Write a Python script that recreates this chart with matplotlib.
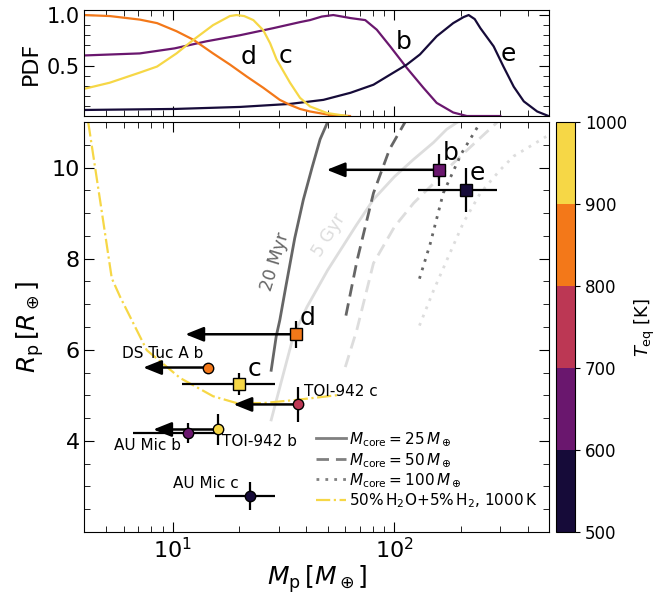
import numpy as np
import matplotlib.pyplot as plt
from matplotlib.colors import ListedColormap, BoundaryNorm
from matplotlib.cm import ScalarMappable
from matplotlib.lines import Line2D
from matplotlib.ticker import MultipleLocator, NullFormatter, FixedLocator

# --- V1298 Tau planets (squares) ---
planet = ['b', 'c', 'd', 'e']
planet_mass = [159, 19.9, 36.0, 211]
planet_mass_lo = [0, 8.9, 0, 83]
planet_mass_hi = [0, 9.0, 0, 79]
planet_mass_lim = [49.5, None, 11.4, None]   # end of the upper-limit arrow
planet_rad = [9.95, 5.25, 6.34, 9.51]
planet_rad_err = [0.35, 0.24, 0.30, 0.49]
planet_teq = [677, 968, 845, 568]

# --- other young planets (circles) ---
other = ['DS Tuc A b', 'TOI-942 b', 'TOI-942 c', 'AU Mic b', 'AU Mic c']
other_mass = [14.4, 16.0, 36.9, 11.7, 22.2]
other_mass_err = [0, 0, 0, 5.1, 6.7]
other_mass_lim = [7.36, 8.17, 18.8, None, None]
other_rad = [5.61, 4.25, 4.80, 4.18, 2.79]
other_rad_err = [0.11, 0.34, 0.375, 0.22, 0.30]
other_teq = [850, 920, 750, 625, 540]

# --- mass PDFs (top panel) ---
pdf_mass_c = [4.0, 5.2, 7.1, 8.5, 10.4, 12.4, 15.2, 18.1, 19.4, 21.0, 23.1, 25.6, 27.5, 29.4, 33.8, 37.5, 41.6, 49.6, 61]
pdf_c = [0.27, 0.33, 0.43, 0.49, 0.62, 0.755, 0.90, 0.99, 1.0, 0.99, 0.95, 0.85, 0.72, 0.56, 0.33, 0.18, 0.095, 0.03, 0.0]
pdf_mass_d = [4.0, 5.2, 7.1, 8.5, 10.4, 12.4, 15.2, 18.1, 21.6, 25.6, 30.4, 33.8, 37.5, 41.6, 51.3, 63]
pdf_d = [1.0, 0.99, 0.955, 0.92, 0.84, 0.755, 0.62, 0.51, 0.39, 0.28, 0.16, 0.11, 0.07, 0.045, 0.01, 0.0]
pdf_mass_b = [4.0, 7.1, 10.2, 14.2, 20.1, 28.4, 37.5, 41.6, 47, 53.0, 58, 63.3, 73.8, 83.2, 95.6, 113.8, 135, 155, 184, 212, 300]
pdf_b = [0.60, 0.62, 0.67, 0.74, 0.80, 0.87, 0.93, 0.95, 0.985, 1.0, 0.985, 0.97, 0.95, 0.855, 0.69, 0.475, 0.28, 0.13, 0.035, 0.0, 0.0]
pdf_mass_e = [4.0, 10.2, 20.1, 33.8, 47.8, 63.3, 80.4, 95.6, 113.8, 130.3, 155, 184, 205, 216, 230, 244, 280, 310, 345, 383, 440, 495]
pdf_e = [0.06, 0.07, 0.09, 0.12, 0.16, 0.23, 0.31, 0.41, 0.51, 0.61, 0.79, 0.92, 0.98, 1.0, 0.96, 0.87, 0.69, 0.49, 0.29, 0.145, 0.045, 0.0]
pdf_label_pos = {'d': (21.9, 0.58), 'c': (32.4, 0.59), 'b': (109.5, 0.735), 'e': (326, 0.61)}

# --- evolution models ---
m25_20myr_m = [27.8, 29.3, 30.4, 32.4, 35.5, 38.8, 42.5, 46.2, 51]
m25_20myr_r = [5.55, 6.3, 6.65, 7.4, 8.45, 9.29, 10.0, 10.62, 11.1]
m25_5gyr_m = [27.8, 30, 35, 40.3, 50, 67.6, 80.4, 100, 122, 150, 172, 200]
m25_5gyr_r = [4.46, 5.07, 6.3, 6.94, 7.75, 8.75, 9.3, 9.8, 10.18, 10.55, 10.84, 11.05]
m50_20myr_m = [60.4, 67.8, 80.4, 95, 111.7]
m50_20myr_r = [6.75, 7.96, 9.44, 10.4, 11.0]
m50_5gyr_m = [60, 67.6, 80.4, 100, 122, 150, 172, 220, 290]
m50_5gyr_r = [5.62, 6.43, 7.9, 8.7, 9.22, 9.65, 9.96, 10.45, 10.99]
m100_20myr_m = [129.6, 145, 166, 200, 243.8]
m100_20myr_r = [7.56, 8.33, 9.44, 10.3, 10.99]
m100_5gyr_m = [129.6, 150, 172, 205, 244, 300, 345, 420, 487]
m100_5gyr_r = [6.53, 7.3, 7.96, 8.8, 9.44, 9.95, 10.25, 10.5, 10.69]
water_m = [4.16, 4.70, 5.31, 5.78, 7.64, 10.8, 15.2, 19.4, 25.6, 36.2, 56.8]
water_r = [10.99, 9.29, 7.57, 7.17, 5.99, 5.38, 4.98, 4.83, 4.83, 4.90, 5.01]

teq_bounds = [500, 600, 700, 800, 900, 1000]

inferno = plt.get_cmap('inferno')
cmap = ListedColormap([inferno(f) for f in [0.1, 0.3, 0.5, 0.7, 0.9]])
norm = BoundaryNorm(teq_bounds, cmap.N)

dark = '#666666'
light = '#dddddd'

fig = plt.figure(figsize=(6.71, 5.95), dpi=100)
ax_top = fig.add_axes([0.1259, 0.8050, 0.6930, 0.1782])
ax = fig.add_axes([0.1259, 0.1059, 0.6930, 0.6891], sharex=ax_top)
cax = fig.add_axes([0.8279, 0.1059, 0.0291, 0.6891])

# top panel
pdfs = {'c': (pdf_mass_c, pdf_c), 'd': (pdf_mass_d, pdf_d),
        'b': (pdf_mass_b, pdf_b), 'e': (pdf_mass_e, pdf_e)}
for name in ['b', 'e', 'd', 'c']:
    m, p = pdfs[name]
    col = cmap(norm(planet_teq[planet.index(name)]))
    ax_top.plot(m, p, color=col, lw=1.6)
    ax_top.text(*pdf_label_pos[name], name, fontsize=18, ha='center', va='center')
ax_top.set_xscale('log')
ax_top.set_xlim(4, 500)
ax_top.set_ylim(0, 1.05)
ax_top.yaxis.set_major_locator(FixedLocator([0.5, 1.0]))
ax_top.yaxis.set_minor_locator(MultipleLocator(0.1))
ax_top.set_ylabel('PDF', fontsize=16)
ax_top.tick_params(labelbottom=False)
ax_top.tick_params(axis='y', labelsize=15)

# models
ax.plot(m25_20myr_m, m25_20myr_r, color=dark, lw=2, ls='-')
ax.plot(m25_5gyr_m, m25_5gyr_r, color=light, lw=2, ls='-')
ax.plot(m50_20myr_m, m50_20myr_r, color=dark, lw=2, ls=(0, (4.5, 2.5)))
ax.plot(m50_5gyr_m, m50_5gyr_r, color=light, lw=2, ls=(0, (4.5, 2.5)))
ax.plot(m100_20myr_m, m100_20myr_r, color=dark, lw=2, ls=(0, (1, 2.2)))
ax.plot(m100_5gyr_m, m100_5gyr_r, color=light, lw=2, ls=(0, (1, 2.2)))
ax.plot(water_m, water_r, color=cmap(norm(1000)), lw=1.6, ls='-.')
ax.text(28.9, 7.93, '20 Myr', color=dark, rotation=73, fontsize=12.5, ha='center', va='center')
ax.text(50.4, 8.52, '5 Gyr', color=light, rotation=58, fontsize=12.5, ha='center', va='center')

arrow = dict(arrowstyle='-|>,head_length=0.55,head_width=0.22', color='k', lw=1.8,
             shrinkA=0, shrinkB=0, mutation_scale=20)

# V1298 Tau planets
for i, name in enumerate(planet):
    col = cmap(norm(planet_teq[i]))
    if planet_mass_lim[i] is not None:
        ax.annotate('', xy=(planet_mass_lim[i], planet_rad[i]),
                    xytext=(planet_mass[i], planet_rad[i]), arrowprops=arrow, zorder=4)
    xerr = [[planet_mass_lo[i]], [planet_mass_hi[i]]] if planet_mass_lo[i] else None
    ax.errorbar(planet_mass[i], planet_rad[i], xerr=xerr, yerr=planet_rad_err[i],
                fmt='s', ms=9, mfc=col, mec='k', mew=1, ecolor='k', elinewidth=1.6,
                capsize=0, zorder=5)
    off = (11.5, 11) if name == 'c' else (8, 12)
    ax.annotate(name, (planet_mass[i], planet_rad[i]), xytext=off, textcoords='offset points',
                fontsize=18, ha='center', va='center', zorder=6)

# other planets
label_off = [(-3.5, 10, 'right'), (3, -9, 'left'), (4, 9.5, 'left'),
             (-5, -9.5, 'right'), (-7.5, 9, 'right')]
for i, name in enumerate(other):
    col = cmap(norm(other_teq[i]))
    if other_mass_lim[i] is not None:
        ax.annotate('', xy=(other_mass_lim[i], other_rad[i]),
                    xytext=(other_mass[i], other_rad[i]), arrowprops=arrow, zorder=4)
    ax.errorbar(other_mass[i], other_rad[i], xerr=other_mass_err[i] or None,
                yerr=other_rad_err[i], fmt='o', ms=7.5, mfc=col, mec='k', mew=1,
                ecolor='k', elinewidth=1.6, capsize=0, zorder=5)
    dx, dy, ha = label_off[i]
    ax.annotate(name, (other_mass[i], other_rad[i]), xytext=(dx, dy), textcoords='offset points',
                fontsize=11, ha=ha, va='center', zorder=6)

ax.set_xscale('log')
ax.set_xlim(4, 500)
ax.set_ylim(2, 11)
ax.yaxis.set_major_locator(FixedLocator([4, 6, 8, 10]))
ax.yaxis.set_minor_locator(MultipleLocator(0.5))
ax.xaxis.set_minor_formatter(NullFormatter())
ax.tick_params(labelsize=16)
ax.set_xlabel(r'$M_\mathrm{p}\,[M_\oplus]$', fontsize=18, labelpad=1)
ax.set_ylabel(r'$R_\mathrm{p}\,[R_\oplus]$', fontsize=18)

for a in (ax, ax_top):
    a.tick_params(which='both', direction='in', top=True, right=True)
    a.tick_params(which='major', length=7)
    a.tick_params(which='minor', length=4)

handles = [Line2D([], [], color='gray', lw=2, ls='-'),
           Line2D([], [], color='gray', lw=2, ls=(0, (4.5, 2.5))),
           Line2D([], [], color='gray', lw=2, ls=(0, (1, 2.2))),
           Line2D([], [], color=cmap(norm(1000)), lw=1.6, ls='-.')]
labels = [r'$M_\mathrm{core} = 25\,M_\oplus$', r'$M_\mathrm{core} = 50\,M_\oplus$',
          r'$M_\mathrm{core} = 100\,M_\oplus$', r'50%$\,$H$_2$O+5%$\,$H$_2$, 1000$\,$K']
ax.legend(handles, labels, loc='lower right', frameon=False, fontsize=11,
          handlelength=2, handletextpad=0.2, labelspacing=0.15,
          bbox_to_anchor=(1.005, 0.02))

cb = fig.colorbar(ScalarMappable(norm=norm, cmap=cmap), cax=cax, ticks=teq_bounds)
cb.ax.tick_params(labelsize=12)
cb.set_label(r'$T_\mathrm{eq}$ [K]', fontsize=13)

fig.savefig('out.png', dpi=100)
